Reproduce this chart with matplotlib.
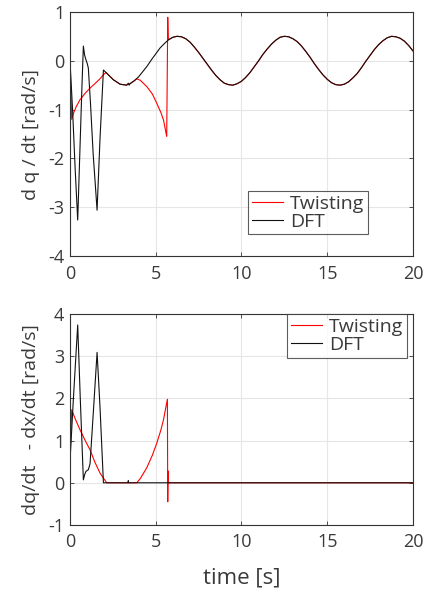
import matplotlib
matplotlib.use("Agg")
import matplotlib.pyplot as plt
import numpy as np

plt.rcParams["font.family"] = ["Open Sans", "DejaVu Sans"]
plt.rcParams["axes.unicode_minus"] = False

TXT = "#3a3a3a"
EDGE = "#333333"

# steady-state velocity once both controllers have converged (t >= 3.5 s)
t_steady = [3.5, 3.75, 4.0, 4.25, 4.5, 4.75, 5.0, 5.25, 5.5, 5.75,
            6.0, 6.25, 6.5, 6.75, 7.0, 7.25, 7.5, 7.75, 8.0, 8.25,
            8.5, 8.75, 9.0, 9.25, 9.5, 9.75, 10.0, 10.25, 10.5, 10.75,
            11.0, 11.25, 11.5, 11.75, 12.0, 12.25, 12.5, 12.75, 13.0, 13.25,
            13.5, 13.75, 14.0, 14.25, 14.5, 14.75, 15.0, 15.25, 15.5, 15.75,
            16.0, 16.25, 16.5, 16.75, 17.0, 17.25, 17.5, 17.75, 18.0, 18.25,
            18.5, 18.75, 19.0, 19.25, 19.5, 19.75, 20.0]
dq_steady = [-0.47, -0.41, -0.33, -0.22, -0.11, 0.02, 0.14, 0.26, 0.35, 0.43,
             0.48, 0.50, 0.49, 0.45, 0.38, 0.28, 0.17, 0.05, -0.07, -0.19,
             -0.30, -0.39, -0.46, -0.49, -0.50, -0.47, -0.42, -0.34, -0.24, -0.12,
             0.00, 0.13, 0.24, 0.34, 0.42, 0.48, 0.50, 0.49, 0.45, 0.39,
             0.30, 0.19, 0.07, -0.06, -0.18, -0.29, -0.38, -0.45, -0.49, -0.50,
             -0.48, -0.43, -0.35, -0.26, -0.14, -0.01, 0.11, 0.23, 0.33, 0.41,
             0.47, 0.50, 0.49, 0.46, 0.40, 0.31, 0.20]

# DFT transient, joint velocity
t_dft = [0.0, 0.15, 0.3, 0.45, 0.6, 0.7, 0.78, 0.85, 0.93, 1.0,
         1.07, 1.2, 1.35, 1.58, 1.75, 1.95, 2.1, 2.3, 2.53, 2.75,
         2.92, 3.1, 3.3, 3.4, 3.45]
dq_dft = [0.0, -1.0, -2.2, -3.26, -1.6, -0.5, 0.30, 0.12, 0.02, -0.05,
          -0.15, -0.9, -1.9, -3.06, -1.6, -0.19, -0.24, -0.31, -0.39, -0.44,
          -0.48, -0.49, -0.50, -0.46, -0.50]

# Twisting transient, joint velocity
t_tw = [0.0, 0.1, 0.2, 0.35, 0.58, 0.9, 1.17, 1.45, 1.75, 1.94,
        2.1, 2.3, 2.53, 2.75, 2.92, 3.1, 3.3, 3.5, 3.75, 3.89,
        4.1, 4.48, 4.8, 5.06, 5.3, 5.45, 5.64, 5.70, 5.73]
dq_tw = [0.0, -1.2, -1.08, -0.95, -0.80, -0.66, -0.56, -0.47, -0.37, -0.29,
         -0.24, -0.31, -0.39, -0.44, -0.48, -0.49, -0.50, -0.47, -0.41, -0.37,
         -0.40, -0.53, -0.68, -0.87, -1.06, -1.21, -1.55, 0.89, 0.43]

# tracking error dq/dt - dx/dt
t_err_dft = [0.0, 0.2, 0.45, 0.6, 0.78, 0.86, 0.93, 1.07, 1.17, 1.35,
             1.58, 1.75, 1.95, 3.38, 3.4, 3.42, 20.0]
e_dft = [0.5, 2.0, 3.74, 2.0, 0.07, 0.2, 0.27, 0.31, 0.45, 1.6,
         3.09, 1.8, 0.0, 0.0, 0.05, 0.0, 0.0]

t_err_tw = [0.0, 0.1, 0.3, 0.58, 0.9, 1.17, 1.45, 1.75, 2.14, 3.89,
            4.1, 4.47, 4.8, 5.06, 5.3, 5.45, 5.68, 5.70, 5.72, 5.74, 20.0]
e_tw = [0.55, 1.73, 1.52, 1.26, 0.99, 0.78, 0.49, 0.23, 0.0, 0.0,
        0.1, 0.35, 0.65, 0.94, 1.25, 1.49, 1.98, -0.45, 0.28, 0.0, 0.0]


def matlab_axes(ax, ylim, yticks):
    ax.set_xlim(0, 20)
    ax.set_ylim(*ylim)
    ax.set_xticks([0, 5, 10, 15, 20])
    ax.set_yticks(yticks)
    ax.grid(True, color="#e6e6e6", lw=0.8)
    ax.set_axisbelow(True)
    for s in ax.spines.values():
        s.set_color(EDGE)
        s.set_linewidth(0.8)
    ax.tick_params(direction="in", length=3, width=0.6, colors=EDGE,
                   labelcolor=TXT, labelsize=13, top=True, right=True, pad=4)
    ax.tick_params(axis="x", pad=6)


def matlab_legend(ax, **kw):
    leg = ax.legend(borderaxespad=0, fontsize=14, frameon=True, fancybox=False,
                    handlelength=1.6, handletextpad=0.35, labelspacing=0.0,
                    borderpad=0.2, **kw)
    leg.get_frame().set_edgecolor(EDGE)
    leg.get_frame().set_linewidth(0.8)
    for txt in leg.get_texts():
        txt.set_color(TXT)
    for line in leg.get_lines():
        line.set_linewidth(0.8)
    return leg


fig = plt.figure(figsize=(4.32, 5.93), dpi=100)
ax1 = fig.add_axes([0.162, 0.568, 0.794, 0.412])
ax2 = fig.add_axes([0.162, 0.1147, 0.794, 0.3558])

# top: joint velocity
ax1.plot(t_tw + t_steady[9:], dq_tw + dq_steady[9:], color="red", lw=0.8, label="Twisting")
ax1.plot(t_dft + t_steady, dq_dft + dq_steady, color="#111111", lw=0.8, label="DFT")
matlab_axes(ax1, (-4, 1), [-4, -3, -2, -1, 0, 1])
ax1.set_ylabel("d q / dt [rad/s]", fontsize=14, color=TXT, labelpad=6)
matlab_legend(ax1, loc="lower left", bbox_to_anchor=(0.52, 0.089))

# bottom: tracking error
ax2.plot(t_err_tw, e_tw, color="red", lw=0.8, label="Twisting")
ax2.plot(t_err_dft, e_dft, color="#111111", lw=0.8, label="DFT")
matlab_axes(ax2, (-1, 4), [-1, 0, 1, 2, 3, 4])
ax2.set_ylabel("dq/dt   - dx/dt [rad/s]", fontsize=14, color=TXT, labelpad=6)
ax2.set_xlabel("time [s]", fontsize=16, color=TXT, labelpad=12)
matlab_legend(ax2, loc="upper right", bbox_to_anchor=(0.983, 1.0))

fig.savefig("out.png", dpi=100)
